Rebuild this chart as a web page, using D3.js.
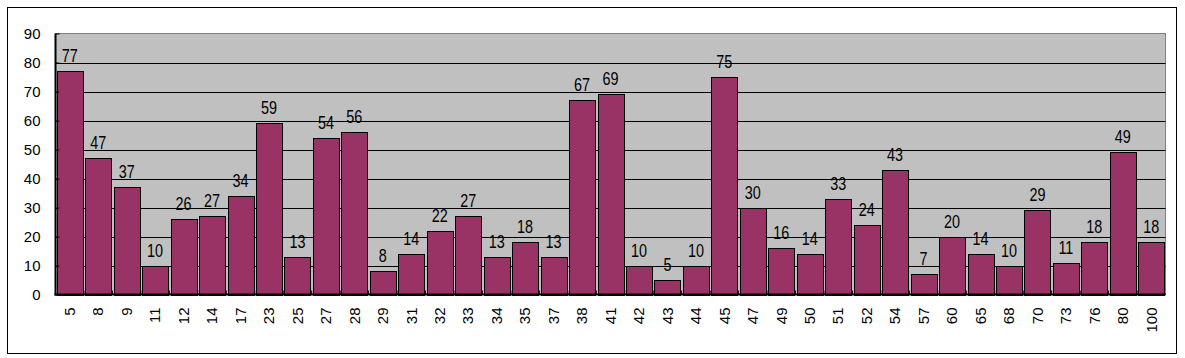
<!DOCTYPE html>
<html><head><meta charset="utf-8">
<script src="https://cdn.jsdelivr.net/npm/d3@7"></script>
<style>
html,body{margin:0;padding:0;background:#fff;}
svg{display:block;}
</style></head>
<body>
<svg id="chart" width="1185" height="358"></svg>
<script>
const categories = ["5","8","9","11","12","14","17","23","25","27","28","29","31","32","33","34","35","37","38","41","42","43","44","45","47","49","50","51","52","54","57","60","65","68","70","73","76","80","100"];
const values = [77,47,37,10,26,27,34,59,13,54,56,8,14,22,27,13,18,13,67,69,10,5,10,75,30,16,14,33,24,43,7,20,14,10,29,11,18,49,18];
const yTicks = [0,10,20,30,40,50,60,70,80,90];

const svg = d3.select("#chart");
// outer border
svg.append("rect").attr("x",7.5).attr("y",7.5).attr("width",1169).attr("height",346)
  .attr("fill","#fff").attr("stroke","#000").attr("stroke-width",1);

const pLeft = 55.5, pRight = 1165.5, pTop = 33.5, pBottom = 294.5;
const x = d3.scaleBand().domain(categories).range([pLeft, pRight]).paddingInner(0.09).paddingOuter(0.045);
const y = d3.scaleLinear().domain([0,90]).range([pBottom, pTop]);

// plot area
svg.append("rect").attr("x",pLeft).attr("y",pTop).attr("width",pRight-pLeft).attr("height",pBottom-pTop)
  .attr("fill","#c0c0c0").attr("stroke","#808080").attr("stroke-width",1);

// gridlines
svg.append("g").selectAll("line").data(yTicks.filter(d=>d>0 && d<90)).join("line")
  .attr("x1",pLeft).attr("x2",pRight).attr("y1",d=>Math.round(y(d))+0.5).attr("y2",d=>Math.round(y(d))+0.5)
  .attr("stroke","#000").attr("stroke-width",1);

// bars
svg.append("g").selectAll("rect").data(values).join("rect")
  .attr("x",(d,i)=>Math.round(x(categories[i]))+0.5)
  .attr("y",d=>Math.round(y(d))+0.5)
  .attr("width",Math.round(x.bandwidth()))
  .attr("height",d=>Math.round(y(0))-Math.round(y(d)))
  .attr("fill","#993366").attr("stroke","#000").attr("stroke-width",1);

// value labels (narrow, tall glyphs)
svg.append("g").selectAll("text").data(values).join("text")
  .attr("transform",(d,i)=>`translate(${x(categories[i])+x.bandwidth()/2},${y(d)-9}) scale(0.8,1)`)
  .attr("text-anchor","middle")
  .attr("font-family","'Liberation Sans',Arial,sans-serif")
  .attr("font-size",18)
  .attr("fill","#000")
  .text(d=>d);

// y axis
const yAxis = d3.axisLeft(y).tickValues(yTicks).tickSize(-4).tickPadding(15);
const gy = svg.append("g").attr("transform",`translate(${pLeft},0)`).call(yAxis);
gy.select(".domain").remove();
gy.selectAll("text").attr("font-family","'Liberation Sans',Arial,sans-serif").attr("font-size",15).attr("fill","#000").attr("dy","0.35em");
gy.selectAll("line").attr("stroke","#000");
svg.append("line").attr("x1",pLeft).attr("x2",pLeft).attr("y1",pTop).attr("y2",pBottom+1)
  .attr("stroke","#000").attr("stroke-width",2);

// x axis
const xAxis = d3.axisBottom(x).tickSize(-4).tickSizeOuter(0);
const gx = svg.append("g").attr("transform",`translate(0,${pBottom})`).call(xAxis);
gx.select(".domain").remove();
gx.selectAll("line").attr("stroke","#000").attr("transform",(d)=>`translate(${-x.step()/2},0)`);
gx.selectAll("text")
  .attr("font-family","'Liberation Sans',Arial,sans-serif").attr("font-size",15).attr("fill","#000")
  .attr("transform","rotate(-90)")
  .attr("text-anchor","end")
  .attr("x",-13).attr("y",0).attr("dy","0.35em");
svg.append("line").attr("x1",pLeft-1).attr("x2",pRight).attr("y1",pBottom).attr("y2",pBottom)
  .attr("stroke","#000").attr("stroke-width",2);
</script>
</body></html>
